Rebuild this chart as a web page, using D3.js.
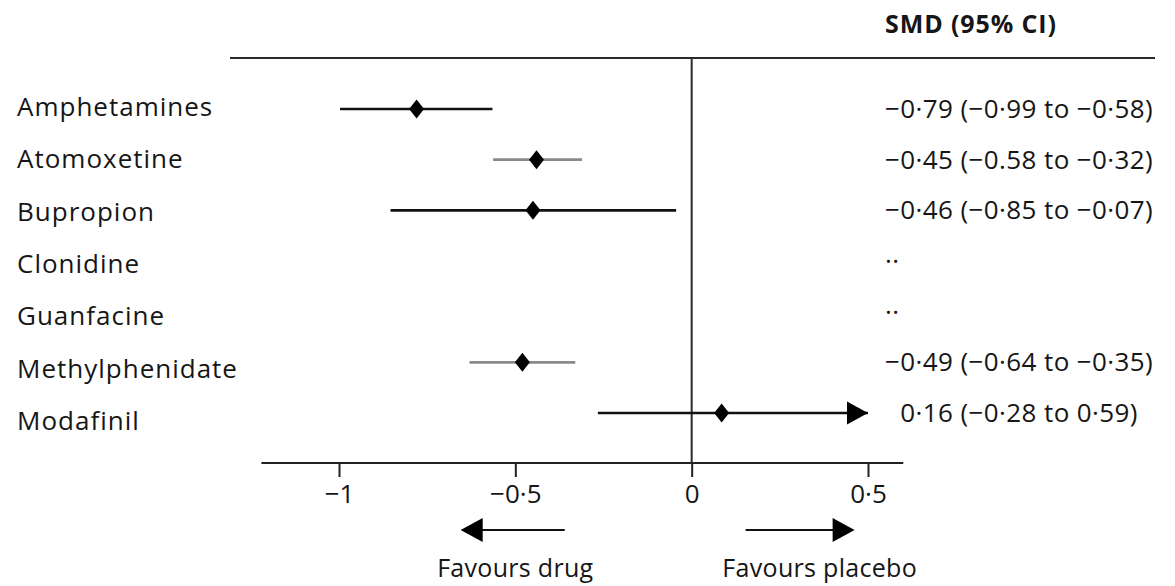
<!DOCTYPE html>
<html>
<head>
<meta charset="utf-8">
<script src="https://cdn.jsdelivr.net/npm/d3@7"></script>
<style>
  body { margin: 0; background: #fff; }
  svg { display: block; }
  text { font-family: "Open Sans", sans-serif; fill: #161616; }
</style>
</head>
<body>
<svg id="chart" width="1175" height="586"></svg>
<script>
// forest plot: SMD vs placebo per drug

const drugs = ["Amphetamines", "Atomoxetine", "Bupropion", "Clonidine", "Guanfacine", "Methylphenidate", "Modafinil"];
const smdLabels = [
  "\u22120\u00b779 (\u22120\u00b799 to \u22120\u00b758)",
  "\u22120\u00b745 (\u22120.58 to \u22120\u00b732)",
  "\u22120\u00b746 (\u22120\u00b785 to \u22120\u00b707)",
  "\u00b7\u00b7",
  "\u00b7\u00b7",
  "\u22120\u00b749 (\u22120\u00b764 to \u22120\u00b735)",
  "\u20070\u00b716 (\u22120\u00b728 to 0\u00b759)"
];
// values as drawn in the figure (null = no estimate)
const estimates = [-0.78, -0.44, -0.45, null, null, -0.48, 0.085];
const lowerCI   = [-0.997, -0.563, -0.854, null, null, -0.63, -0.266];
const upperCI   = [-0.565, -0.311, -0.044, null, null, -0.33, 0.59];
const tickValues = [-1, -0.5, 0, 0.5];
const greyRows = ["Atomoxetine", "Methylphenidate"];

const svg = d3.select("#chart");

const x = d3.scaleLinear().domain([-1, 0.5]).range([339, 868]);
const y = d3.scaleLinear().domain([0, drugs.length - 1]).range([109, 413]);
const yLabel = d3.scaleLinear().domain([0, drugs.length - 1]).range([116, 430]);

const axisY = 463;
const ruleY = 58;

const fmt = d => d3.format("")(d).replace("-", "\u2212").replace(".", "\u00b7");

// header
svg.append("text")
  .attr("x", 885).attr("y", 33)
  .attr("font-size", "25px").attr("font-weight", "bold")
  .attr("letter-spacing", "0.9px")
  .text("SMD (95% CI)");

svg.append("line")
  .attr("x1", 230).attr("x2", 1155)
  .attr("y1", ruleY).attr("y2", ruleY)
  .attr("stroke", "#2a2a2a").attr("stroke-width", 2.2);

// zero line
svg.append("line")
  .attr("x1", x(0)).attr("x2", x(0))
  .attr("y1", ruleY).attr("y2", axisY)
  .attr("stroke", "#2a2a2a").attr("stroke-width", 2);

// axis
const axis = svg.append("g")
  .attr("transform", `translate(0,${axisY})`)
  .call(d3.axisBottom(x).tickValues(tickValues).tickSize(14).tickPadding(8).tickFormat(fmt));
axis.select(".domain").remove();
axis.selectAll(".tick line").attr("stroke", "#222").attr("stroke-width", 2);
axis.selectAll(".tick text")
  .attr("font-family", "Open Sans, sans-serif")
  .attr("font-size", "26px")
  .attr("fill", "#161616");
axis.append("line")
  .attr("x1", x(-1.22)).attr("x2", x(0.6))
  .attr("stroke", "#222").attr("stroke-width", 2);

// drug labels
svg.selectAll(".drug")
  .data(drugs)
  .join("text")
  .attr("class", "drug")
  .attr("x", 17)
  .attr("y", (d, i) => yLabel(i))
  .attr("font-size", "26px")
  .attr("letter-spacing", "1px")
  .text(d => d);

// right column
svg.selectAll(".smd")
  .data(smdLabels)
  .join("text")
  .attr("class", "smd")
  .attr("x", 885)
  .attr("y", (d, i) => y(i))
  .attr("dy", "0.35em")
  .attr("font-size", "26px")
  .attr("letter-spacing", "0.4px")
  .text(d => d);

const rows = drugs.map((d, i) => ({ drug: d, i, est: estimates[i], lo: lowerCI[i], hi: upperCI[i] }))
  .filter(d => d.est !== null);
const xMax = x.domain()[1];

const g = svg.append("g");

g.selectAll(".ci")
  .data(rows)
  .join("line")
  .attr("class", "ci")
  .attr("x1", d => x(d.lo))
  .attr("x2", d => x(Math.min(d.hi, xMax)))
  .attr("y1", d => y(d.i)).attr("y2", d => y(d.i))
  .attr("stroke", d => greyRows.includes(d.drug) ? "#8a8a8a" : "#111")
  .attr("stroke-width", 2.6);

// arrow for truncated CI
g.selectAll(".trunc")
  .data(rows.filter(d => d.hi > xMax))
  .join("path")
  .attr("class", "trunc")
  .attr("transform", d => `translate(${x(xMax)},${y(d.i)})`)
  .attr("d", "M0,0 L-21,-11.5 L-21,11.5Z")
  .attr("fill", "#000");

g.selectAll(".est")
  .data(rows)
  .join("path")
  .attr("class", "est")
  .attr("transform", d => `translate(${x(d.est)},${y(d.i)})`)
  .attr("d", "M0,-9.5 L7.5,0 L0,9.5 L-7.5,0Z")
  .attr("fill", "#000");

// favours arrows
const arrowY = 530;
const favours = [
  { label: "Favours drug", from: -0.36, to: -0.655, text: -0.5 },
  { label: "Favours placebo", from: 0.153, to: 0.462, text: 0.363 }
];
favours.forEach(f => {
  const dir = f.to > f.from ? 1 : -1;
  svg.append("line")
    .attr("x1", x(f.from)).attr("x2", x(f.to) - dir * 18)
    .attr("y1", arrowY).attr("y2", arrowY)
    .attr("stroke", "#111").attr("stroke-width", 2.2);
  svg.append("path")
    .attr("transform", `translate(${x(f.to)},${arrowY})`)
    .attr("d", `M0,0 L${-dir * 22},-12 L${-dir * 22},12Z`)
    .attr("fill", "#000");
  svg.append("text")
    .attr("x", x(f.text)).attr("y", 577)
    .attr("text-anchor", "middle")
    .attr("font-size", "25px")
    .attr("letter-spacing", "0.3px")
    .text(f.label);
});
</script>
</body>
</html>
